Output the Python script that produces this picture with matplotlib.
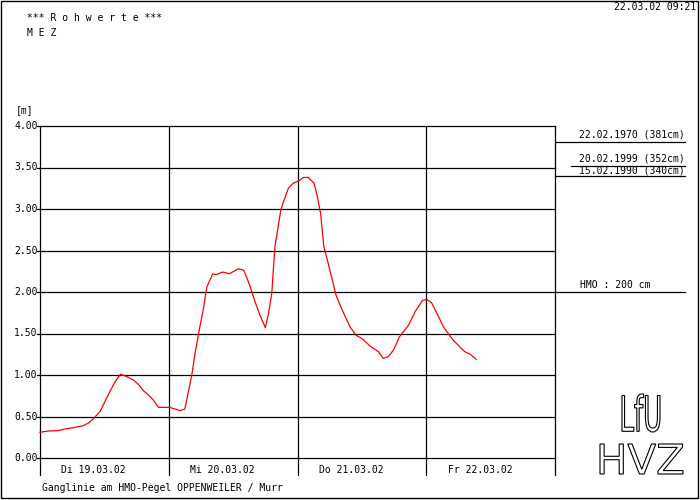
import matplotlib
matplotlib.use("Agg")
import matplotlib.pyplot as plt
from matplotlib.patches import PathPatch, Rectangle
from matplotlib.textpath import TextPath
from matplotlib.font_manager import FontProperties
from matplotlib.transforms import Affine2D

# hours since Di 19.03.02 00:00 and water level in m
hours = [0.0, 1.5, 3.4, 4.7, 6.2, 8.1, 9.0, 9.9, 11.2, 12.7, 14.0, 15.0, 16.2, 17.4,
         18.3, 19.3, 20.2, 21.1, 22.1, 24.1, 25.2, 26.1, 27.0, 27.6, 28.3, 28.9,
         29.8, 30.4, 31.1, 32.2, 32.8, 34.1, 35.3, 37.0, 38.0, 39.1, 40.1, 41.0,
         42.0, 42.6, 43.2, 43.8, 44.9, 45.4, 46.3, 47.2, 48.5, 49.1, 50.0, 51.1,
         51.7, 52.3, 52.9, 53.7, 55.2, 56.2, 57.8, 58.9, 60.0, 61.5, 63.1, 64.0,
         64.9, 65.9, 67.0, 68.7, 69.9, 71.3, 72.1, 73.0, 74.0, 75.2, 77.0, 79.2,
         80.2, 81.3]
level = [0.31, 0.325, 0.33, 0.35, 0.365, 0.39, 0.42, 0.47, 0.56, 0.76, 0.92, 1.01,
         0.98, 0.94, 0.89, 0.81, 0.76, 0.70, 0.61, 0.61, 0.59, 0.57, 0.59, 0.78,
         1.00, 1.26, 1.58, 1.78, 2.06, 2.22, 2.21, 2.24, 2.22, 2.28, 2.26, 2.08,
         1.88, 1.72, 1.57, 1.74, 1.98, 2.55, 2.99, 3.09, 3.25, 3.31, 3.35, 3.38,
         3.38, 3.31, 3.15, 2.95, 2.55, 2.35, 1.96, 1.80, 1.58, 1.48, 1.44, 1.35,
         1.28, 1.20, 1.22, 1.30, 1.46, 1.60, 1.76, 1.90, 1.91, 1.87, 1.74, 1.58,
         1.42, 1.28, 1.25, 1.19]

y_ticks = [0.0, 0.5, 1.0, 1.5, 2.0, 2.5, 3.0, 3.5, 4.0]
day_labels = ["Di 19.03.02", "Mi 20.03.02", "Do 21.03.02", "Fr 22.03.02"]
marks = [("22.02.1970 (381cm)", 3.81), ("20.02.1999 (352cm)", 3.52),
         ("15.02.1990 (340cm)", 3.40)]
hmo = 2.00

W, H = 700, 500
MONO = "DejaVu Sans Mono"
FS = 7

fig = plt.figure(figsize=(7, 5), dpi=100)
fig.patch.set_facecolor("white")


def ftext(x, y, s, **kw):
    kw.setdefault("family", MONO)
    kw.setdefault("fontsize", FS)
    fig.text(x / W, 1 - y / H, s, **kw)


# outer frame
fig.patches.append(Rectangle((0.5 / W, 2 / H), 697.5 / W, 497.5 / H, transform=fig.transFigure,
                             fill=False, edgecolor="black", lw=1.0))

ax = fig.add_axes([40 / W, 42 / H, 515 / W, 332 / H])
ax.set_xlim(0, 96)
ax.set_ylim(0, 4)
ax.axis("off")

lw = 0.9
for v in y_ticks:
    ax.plot([-0.5, 96], [v, v], color="black", lw=lw, clip_on=False)
    ax.text(-0.4, v, f"{v:.2f}", ha="right", va="center", family=MONO, fontsize=FS)
for d in range(5):
    ax.plot([d * 24, d * 24], [-0.205, 4], color="black", lw=lw, clip_on=False)
for d, lab in enumerate(day_labels):
    ax.text(d * 24 + 4, -0.15, lab, ha="left", va="center", family=MONO, fontsize=FS)

# reference levels on the right
x_end = 120.2
ax.plot([96, x_end], [marks[0][1]] * 2, color="black", lw=lw, clip_on=False)
ax.plot([99.0, x_end], [marks[1][1]] * 2, color="black", lw=lw, clip_on=False)
ax.plot([96, x_end], [marks[2][1]] * 2, color="black", lw=lw, clip_on=False)
ax.plot([96, x_end], [hmo, hmo], color="black", lw=lw, clip_on=False)
ax.text(x_end, marks[0][1] + 0.025, marks[0][0], ha="right", va="bottom", family=MONO, fontsize=FS)
ax.text(x_end, marks[1][1] + 0.025, marks[1][0], ha="right", va="bottom", family=MONO, fontsize=FS)
ax.text(x_end, marks[2][1] + 0.002, marks[2][0], ha="right", va="bottom", family=MONO, fontsize=FS)
ax.text(100.6, hmo + 0.03, f"HMO : {hmo * 100:.0f} cm", ha="left", va="bottom", family=MONO, fontsize=FS)

ax.plot(hours, level, color="red", lw=0.9, clip_on=False)

# header / footer texts
ftext(27, 18, "*** R o h w e r t e ***", va="center")
ftext(27, 33, "M E Z", va="center")
ftext(16, 110, "[m]", va="center")
ftext(696, 7, "22.03.02 09:21", ha="right", va="center")
ftext(42, 488, "Ganglinie am HMO-Pegel OPPENWEILER / Murr", va="center")


def outlined(s, x0, y0, x1, y1):
    path = TextPath((0, 0), s, size=10, prop=FontProperties(family="DejaVu Sans"))
    ext = path.get_extents()
    sx = (x1 - x0) / ext.width
    sy = (y1 - y0) / ext.height
    tr = (Affine2D().translate(-ext.x0, -ext.y0).scale(sx / W, sy / H)
          .translate(x0 / W, 1 - y1 / H) + fig.transFigure)
    fig.patches.append(PathPatch(path, facecolor="white", edgecolor="black", lw=0.8, transform=tr))


outlined("LfU", 622, 394, 660, 432)
outlined("HVZ", 600, 444, 683, 474)

fig.savefig("out.png", dpi=100)
